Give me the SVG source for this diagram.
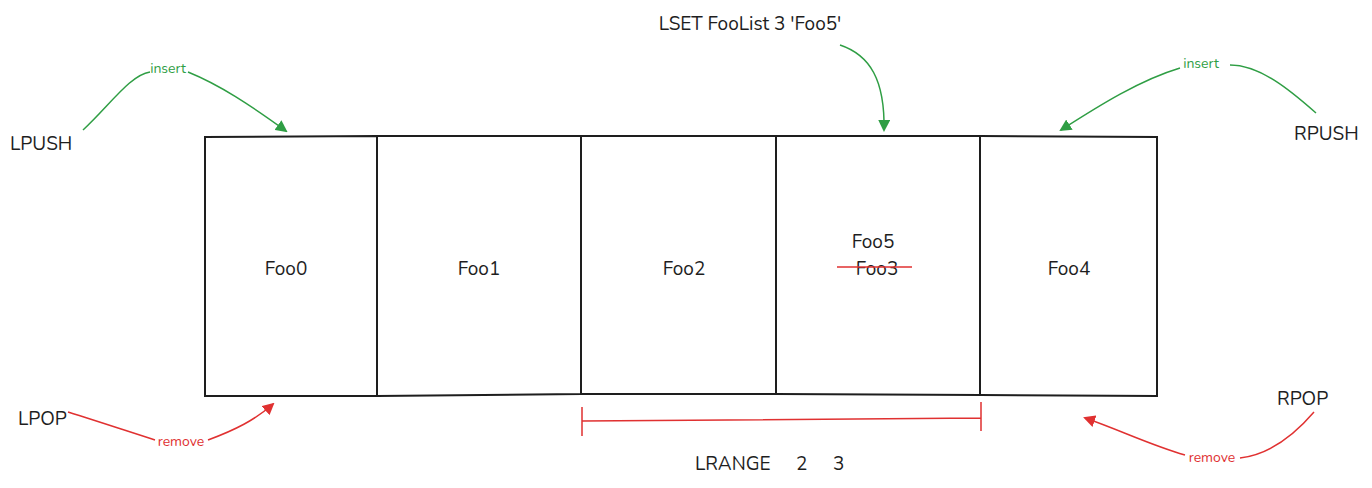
<svg xmlns="http://www.w3.org/2000/svg" width="1372" height="488" viewBox="0 0 1372 488">
<style>
.t{font-family:"Nunito","Lato","Liberation Sans",sans-serif;font-size:19px;fill:#1e1e1e}
.cell{fill:none;stroke:#1e1e1e;stroke-width:2}
.g{fill:none;stroke:#2f9e44;stroke-width:1.5}
.r{fill:none;stroke:#e03131;stroke-width:1.5}
.gl{font-family:"Nunito","Lato","Liberation Sans",sans-serif;font-size:14px;fill:#2f9e44}
.rl{font-family:"Nunito","Lato","Liberation Sans",sans-serif;font-size:14px;fill:#e03131}
</style>
<defs>
<marker id="ag" markerWidth="12" markerHeight="12" refX="10" refY="6" orient="auto" markerUnits="userSpaceOnUse"><path d="M0,0 L12,6 L0,12 Z" fill="#2f9e44"/></marker>
<marker id="ar" markerWidth="12" markerHeight="12" refX="10" refY="6" orient="auto" markerUnits="userSpaceOnUse"><path d="M0,0 L12,6 L0,12 Z" fill="#e03131"/></marker>
</defs>
<rect width="1372" height="488" fill="#fff"/>
<g id="cell0"><path class="cell" d="M205,137 L377,136 L377,396 L205,396 Z"/><text class="t" x="286" y="275" text-anchor="middle">Foo0</text></g>
<g id="cell1"><path class="cell" d="M377,136 L581,136 L581,394 L377,396"/><text class="t" x="479" y="275" text-anchor="middle">Foo1</text></g>
<g id="cell2"><path class="cell" d="M581,136 L776,136 L776,394 L581,394"/><text class="t" x="684" y="275" text-anchor="middle">Foo2</text></g>
<g id="cell3"><path class="cell" d="M776,136 L980,136 L980,395 L776,394"/><text class="t" x="873" y="248" text-anchor="middle">Foo5</text><text class="t" x="877" y="275" text-anchor="middle">Foo3</text><path class="r" d="M837,267 L912,267"/></g>
<g id="cell4"><path class="cell" d="M980,136 L1157,137 L1157,396 L980,395"/><text class="t" x="1069" y="275" text-anchor="middle">Foo4</text></g>
<g id="labels">
<text class="t" x="10" y="150">LPUSH</text>
<text class="t" x="1294" y="140">RPUSH</text>
<text class="t" x="18" y="425">LPOP</text>
<text class="t" x="1277" y="405">RPOP</text>
<text class="t" x="750" y="30" text-anchor="middle">LSET FooList 3 'Foo5'</text>
<text class="t" x="695" y="470">LRANGE</text><text class="t" x="796" y="470">2</text><text class="t" x="833" y="470">3</text>
</g>
<g id="connectors">
<path class="g" d="M83,130 C110,105 130,75 150,72"/><path class="g" d="M188,72 C220,85 250,105 286,131" marker-end="url(#ag)"/>
<text class="gl" x="168" y="73" text-anchor="middle">insert</text>
<path class="g" d="M1316,113 C1290,90 1260,65 1230,65"/><path class="g" d="M1180,68 C1140,80 1100,105 1061,130" marker-end="url(#ag)"/>
<text class="gl" x="1201" y="68" text-anchor="middle">insert</text>
<path class="g" d="M840,45 C870,55 885,80 884,130" marker-end="url(#ag)"/>
<path class="r" d="M68,412 C100,422 130,432 155,440"/><path class="r" d="M208,440 C235,430 255,420 273,404" marker-end="url(#ar)"/>
<text class="rl" x="181" y="446" text-anchor="middle">remove</text>
<path class="r" d="M1314,412 C1290,440 1265,455 1240,458"/><path class="r" d="M1185,455 C1150,445 1120,430 1085,418" marker-end="url(#ar)"/>
<text class="rl" x="1212" y="462" text-anchor="middle">remove</text>
<path class="r" d="M582,421 L981,418 M582,407 L582,436 M981,402 L981,431"/>
</g>
</svg>
